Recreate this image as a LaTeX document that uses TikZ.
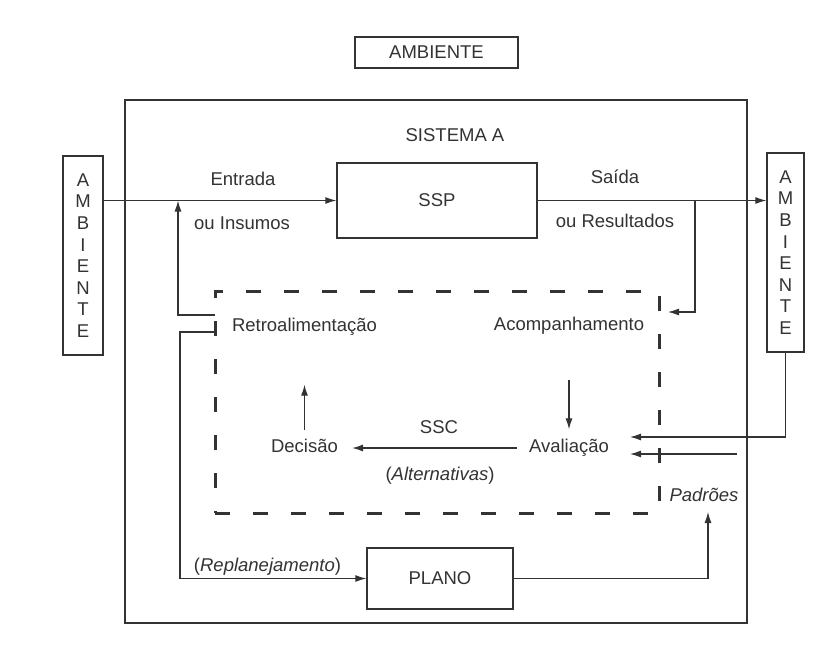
\documentclass[tikz,border=0pt]{standalone}
\usepackage{fontspec}
\setmainfont{Liberation Sans}
\usepackage{tikz}
\usetikzlibrary{arrows.meta, calc}

\begin{document}
\begin{tikzpicture}[x=1pt, y=-1pt, color=black!80, >={Latex[length=11pt,width=7pt]},
        font=\fontsize{18.5}{21.6}\selectfont,
        caixa/.style={draw, line width=1.4pt, inner sep=0pt},
        rotulo/.style={inner sep=2pt, text height=13pt, text depth=4pt},
        seta/.style={->, line width=1.2pt}]
        \useasboundingbox[fill=white] (0,0) rectangle (820,649);

        % sistema A e subsistema de controle
        \node[draw, line width=2.8pt, minimum width=622pt, minimum height=523pt] (sistema) at (436,361.5) {};
        \node[draw, line width=3pt, dash pattern=on 15pt off 23pt, minimum width=444pt, minimum height=222pt] (ssc) at (437,402) {};
        \node[rotulo] (sistemaA) at (455,137) {SISTEMA A};

        % caixas
        \node[caixa, minimum width=163pt, minimum height=31pt] (ambTop) at (436.5,52.5) {AMBIENTE};
        \node[caixa, minimum width=40pt, minimum height=199pt, align=center] (ambL) at (83,255.5) {A\\M\\B\\I\\E\\N\\T\\E};
        \node[caixa, minimum width=37pt, minimum height=199pt, align=center] (ambR) at (785.5,252.5) {A\\M\\B\\I\\E\\N\\T\\E};
        \node[caixa, minimum width=200pt, minimum height=75pt] (ssp) at (437,200.5) {SSP};
        \node[caixa, minimum width=146pt, minimum height=61pt] (plano) at (440,578.5) {PLANO};

        % rotulos
        \node[rotulo] (entrada) at (243,181) {Entrada};
        \node[rotulo] (insumos) at (242,225) {ou Insumos};
        \node[rotulo] (saida) at (615,179) {Saída};
        \node[rotulo] (resultados) at (615,223) {ou Resultados};
        \node[rotulo] (retro) at (304.5,327) {Retroalimentação};
        \node[rotulo] (acomp) at (569,326) {Acompanhamento};
        \node[rotulo] (avaliacao) at (569,448) {Avaliação};
        \node[rotulo] (decisao) at (304.5,448) {Decisão};
        \node[rotulo] (sscLbl) at (439,429) {SSC};
        \node[rotulo] (alternativas) at (440,476) {(\textit{Alternativas})};
        \node[rotulo] (padroes) at (704,497) {\textit{Padrões}};
        \node[rotulo] (replan) at (267.5,567) {(\textit{Replanejamento})};

        % pontos livres
        \coordinate (retroOut) at (215,315);
        \coordinate (entradaJ) at (178,200.5);
        \coordinate (replanOut) at (215,332);
        \coordinate (saidaJ) at (695,200.5);
        \coordinate (acompIn) at (668,312);
        \coordinate (avalIn1) at (630,437);
        \coordinate (padraoSrc) at (737,454);
        \coordinate (avalIn2) at (630,454);
        \coordinate (padroesIn) at (708,512);

        % fluxos
        \draw[seta] (ambL.east |- ssp.west) -- (ssp.west);
        \draw[seta] (ssp.east) -- (ambR.west |- ssp.east);
        \draw[seta] (saidaJ) |- (acompIn);
        \draw[seta] (retroOut) -| (entradaJ);
        \draw[seta] (replanOut) -- ++(-35,0) |- (plano.west);
        \draw[seta] (plano.east) -| (padroesIn);
        \draw[seta, shorten <=43pt, shorten >=8pt] (acomp.south) -- (avaliacao.north);
        \draw[seta, shorten <=7pt, shorten >=47pt] (decisao.north) -- (retro.south);
        \draw[seta, shorten <=10pt, shorten >=12pt] (avaliacao.west) -- (decisao.east);
        \draw[seta] (ambR.south) |- (avalIn1);
        \draw[seta] (padraoSrc) -- (avalIn2);
    \end{tikzpicture}
\end{document}
